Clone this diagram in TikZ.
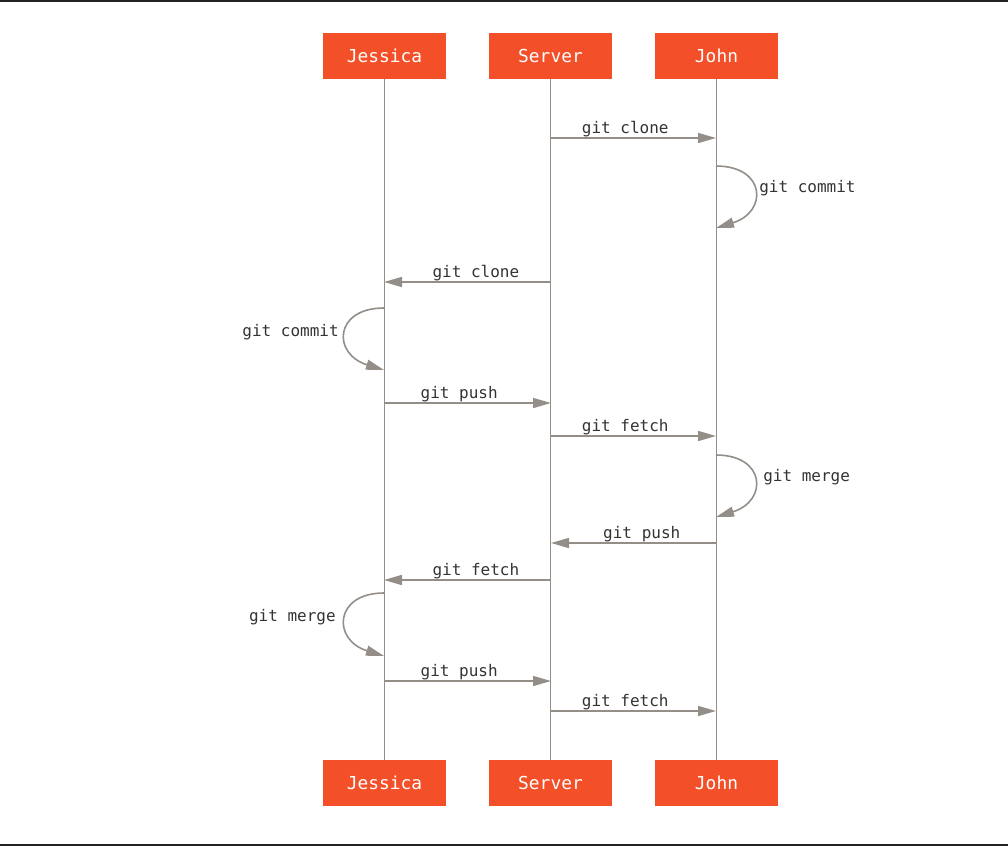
\documentclass[tikz,border=0pt]{standalone}
\usepackage{fontspec}
\setmonofont{DejaVu Sans Mono}
\usetikzlibrary{arrows.meta,calc}
\definecolor{gitorange}{HTML}{F34F29}
\definecolor{linegrey}{HTML}{948E88}
\definecolor{txtgrey}{HTML}{333333}
\begin{document}
\begin{tikzpicture}[x=0.75pt,y=-0.75pt,
  actor/.style={fill=gitorange, draw=none, minimum width=92.25pt, minimum height=34.5pt, inner sep=0pt, text=white, font=\ttfamily\fontsize{13.4}{16}\selectfont},
  life/.style={draw=linegrey, line width=1.2pt},
  msg/.style={draw=linegrey, line width=1.2pt, -{Triangle[length=13.5pt,width=7.5pt]}},
  lbl/.style={text=txtgrey, font=\ttfamily\fontsize{12}{14}\selectfont, inner sep=0pt}]
\useasboundingbox (0,0) rectangle (1008,846);
\fill[black!87] (0,0) rectangle (1008,2);
\fill[black!87] (0,844) rectangle (1008,846);
% actors
\node[actor] (jt) at (384.5,56) {Jessica};
\node[actor] (st) at (550.5,56) {Server};
\node[actor] (nt) at (716.5,56) {John};
\node[actor] (jb) at (384.5,783) {Jessica};
\node[actor] (sb) at (550.5,783) {Server};
\node[actor] (nb) at (716.5,783) {John};
\draw[life] (jt) -- (jb);
\draw[life] (st) -- (sb);
\draw[life] (nt) -- (nb);
% message points
\coordinate (s1) at (551,138);  \coordinate (n1) at (716,138);
\coordinate (n2a) at (716,166); \coordinate (n2b) at (716,228);
\coordinate (s3) at (551,282);  \coordinate (j3) at (384,282);
\coordinate (j4a) at (384,308); \coordinate (j4b) at (384,370);
\coordinate (j5) at (384,403);  \coordinate (s5) at (551,403);
\coordinate (s6) at (551,436);  \coordinate (n6) at (716,436);
\coordinate (n7a) at (716,455); \coordinate (n7b) at (716,517);
\coordinate (n8) at (716,543);  \coordinate (s8) at (551,543);
\coordinate (s9) at (551,580);  \coordinate (j9) at (384,580);
\coordinate (j10a) at (384,593); \coordinate (j10b) at (384,656);
\coordinate (j11) at (384,681); \coordinate (s11) at (551,681);
\coordinate (s12) at (551,711); \coordinate (n12) at (716,711);
% straight messages
\draw[msg] (s1) -- (n1) node[lbl, pos=0.45, anchor=base, yshift=3.75pt] {git clone};
\draw[msg] (s3) -- (j3) node[lbl, pos=0.45, anchor=base, yshift=3.75pt] {git clone};
\draw[msg] (j5) -- (s5) node[lbl, pos=0.45, anchor=base, yshift=3.75pt] {git push};
\draw[msg] (s6) -- (n6) node[lbl, pos=0.45, anchor=base, yshift=3.75pt] {git fetch};
\draw[msg] (n8) -- (s8) node[lbl, pos=0.45, anchor=base, yshift=3.75pt] {git push};
\draw[msg] (s9) -- (j9) node[lbl, pos=0.45, anchor=base, yshift=3.75pt] {git fetch};
\draw[msg] (j11) -- (s11) node[lbl, pos=0.45, anchor=base, yshift=3.75pt] {git push};
\draw[msg] (s12) -- (n12) node[lbl, pos=0.45, anchor=base, yshift=3.75pt] {git fetch};
% self loops
\draw[msg] (n2a) .. controls ($(n2a)+(50,0)$) and ($(n2b)+(52,-16)$) .. (n2b);
\draw[msg] (n7a) .. controls ($(n7a)+(50,0)$) and ($(n7b)+(52,-16)$) .. (n7b);
\draw[msg] (j4a) .. controls ($(j4a)+(-50,0)$) and ($(j4b)+(-52,-16)$) .. (j4b);
\draw[msg] (j10a) .. controls ($(j10a)+(-50,0)$) and ($(j10b)+(-52,-16)$) .. (j10b);
\node[lbl, anchor=base west] (l2) at (759,192) {git commit};
\node[lbl, anchor=base west] (l7) at (763,481) {git merge};
\node[lbl, anchor=base east] (l4) at (339,336) {git commit};
\node[lbl, anchor=base east] (l10) at (336,621) {git merge};
\end{tikzpicture}
\end{document}
